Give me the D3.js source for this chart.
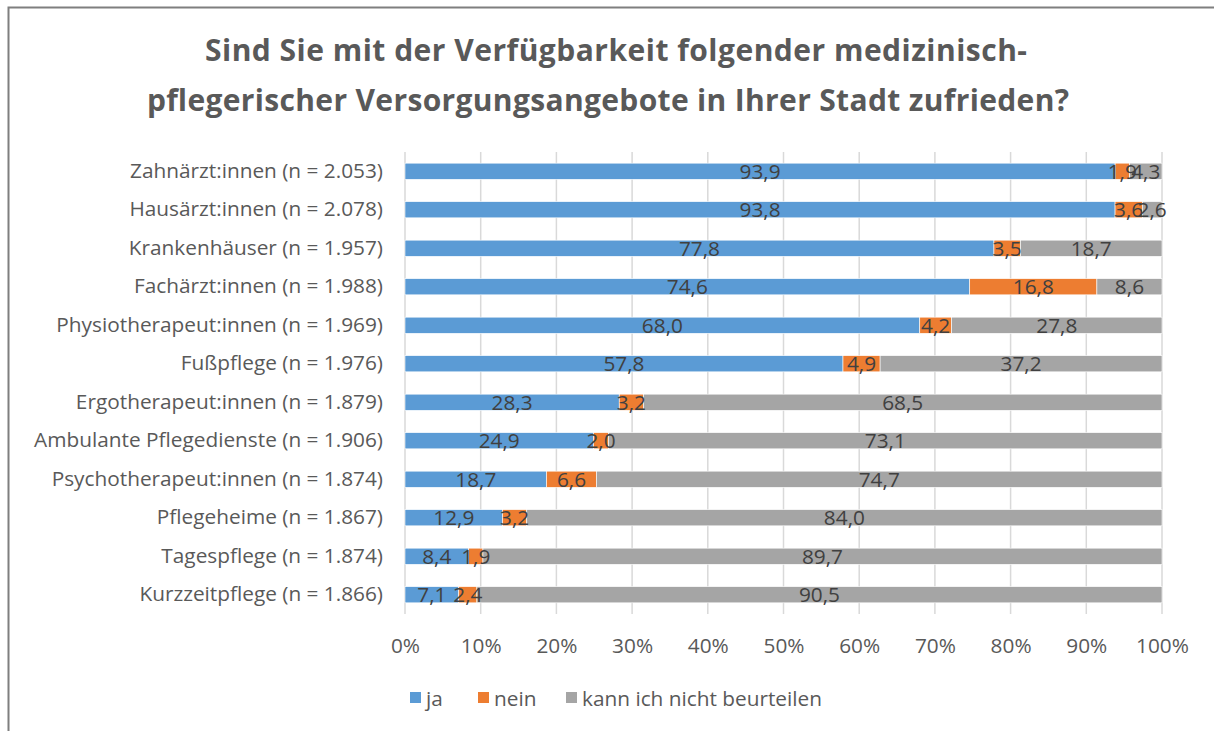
<!DOCTYPE html>
<html>
<head>
<meta charset="utf-8">
<title>Versorgungsangebote</title>
<script src="https://cdn.jsdelivr.net/npm/d3@7"></script>
<style>
  body { margin: 0; background: #fff; }
  text { font-family: "Open Sans", sans-serif; }
</style>
</head>
<body>
<script>
// data
var categories = [
  "Zahnärzt:innen (n = 2.053)",
  "Hausärzt:innen (n = 2.078)",
  "Krankenhäuser (n = 1.957)",
  "Fachärzt:innen (n = 1.988)",
  "Physiotherapeut:innen (n = 1.969)",
  "Fußpflege (n = 1.976)",
  "Ergotherapeut:innen (n = 1.879)",
  "Ambulante Pflegedienste (n = 1.906)",
  "Psychotherapeut:innen (n = 1.874)",
  "Pflegeheime (n = 1.867)",
  "Tagespflege (n = 1.874)",
  "Kurzzeitpflege (n = 1.866)"
];
var ja    = [93.9, 93.8, 77.8, 74.6, 68.0, 57.8, 28.3, 24.9, 18.7, 12.9, 8.4, 7.1];
var nein  = [1.9, 3.6, 3.5, 16.8, 4.2, 4.9, 3.2, 2.0, 6.6, 3.2, 1.9, 2.4];
var kann  = [4.3, 2.6, 18.7, 8.6, 27.8, 37.2, 68.5, 73.1, 74.7, 84.0, 89.7, 90.5];
var seriesNames = ["ja", "nein", "kann ich nicht beurteilen"];
var colors = ["#5B9BD5", "#ED7D31", "#A5A5A5"];
var xTicks = [0, 0.1, 0.2, 0.3, 0.4, 0.5, 0.6, 0.7, 0.8, 0.9, 1];

var W = 1214, H = 731;
var margin = {top: 152, left: 405};
var fs = 20.8;

var svg = d3.select("body").append("svg")
  .attr("width", W)
  .attr("height", H);

// chart frame (only left and top visible)
svg.append("rect")
  .attr("x", 8.5).attr("y", 7.5)
  .attr("width", 1220).attr("height", 740)
  .attr("fill", "none").attr("stroke", "#7f7f7f").attr("stroke-width", 2);

// title
var title = svg.append("text")
  .attr("font-weight", "bold")
  .attr("font-size", 30)
  .attr("fill", "#595959");
title.append("tspan").attr("x", 205).attr("y", 61)
  .attr("textLength", 822).attr("lengthAdjust", "spacing")
  .text("Sind Sie mit der Verfügbarkeit folgender medizinisch-");
title.append("tspan").attr("x", 147).attr("y", 111)
  .attr("textLength", 922).attr("lengthAdjust", "spacing")
  .text("pflegerischer Versorgungsangebote in Ihrer Stadt zufrieden?");

var g = svg.append("g")
  .attr("transform", "translate(" + margin.left + "," + margin.top + ")");

var x = d3.scaleLinear().domain([0, 1]).range([0, 757]);
var y = d3.scaleBand().domain(categories).range([0, 462]).paddingInner(0.58).paddingOuter(0.29);

// gridlines
g.selectAll(".grid")
  .data(xTicks)
  .enter().append("line")
  .attr("x1", function(d) { return x(d); })
  .attr("x2", function(d) { return x(d); })
  .attr("y1", 0).attr("y2", 462)
  .attr("stroke", "#d9d9d9").attr("stroke-width", 1.5);

// stack data (100% stacked, so normalise each row)
var rows = categories.map(function(c, i) {
  var tot = ja[i] + nein[i] + kann[i];
  return {cat: c, vals: [ja[i], nein[i], kann[i]], tot: tot};
});
var segs = [];
rows.forEach(function(r) {
  var acc = 0;
  r.vals.forEach(function(v, k) {
    segs.push({cat: r.cat, k: k, v: v, x0: acc / r.tot, x1: (acc + v) / r.tot});
    acc += v;
  });
});

g.selectAll(".seg")
  .data(segs)
  .enter().append("rect")
  .attr("x", function(d) { return x(d.x0); })
  .attr("width", function(d) { return x(d.x1) - x(d.x0); })
  .attr("y", function(d) { return y(d.cat); })
  .attr("height", y.bandwidth())
  .attr("fill", function(d) { return colors[d.k]; })
  .attr("stroke", "#fff").attr("stroke-width", 0.6);

g.selectAll(".lbl")
  .data(segs)
  .enter().append("text")
  .attr("x", function(d) { return (x(d.x0) + x(d.x1)) / 2; })
  .attr("y", function(d) { return y(d.cat) + y.bandwidth() / 2; })
  .attr("dy", "0.36em")
  .attr("text-anchor", "middle")
  .attr("font-size", fs)
  .attr("fill", "#404040")
  .text(function(d) { return d.v.toFixed(1).replace(".", ","); });

// y axis labels
var yAxis = g.append("g").call(d3.axisLeft(y).tickSize(0).tickPadding(22));
yAxis.select(".domain").remove();
yAxis.selectAll("text")
  .attr("font-size", fs)
  .attr("fill", "#595959")
  .style("font-family", "'Open Sans', sans-serif");

// x axis
var xAxis = g.append("g")
  .attr("transform", "translate(0,462)")
  .call(d3.axisBottom(x).tickValues(xTicks).tickSize(0).tickPadding(24)
    .tickFormat(function(d) { return Math.round(d * 100) + "%"; }));
xAxis.select(".domain").remove();
xAxis.selectAll("text")
  .attr("font-size", fs)
  .attr("fill", "#595959")
  .style("font-family", "'Open Sans', sans-serif");

// legend
var legendX = [410, 478, 566];
var legend = svg.selectAll(".leg")
  .data(seriesNames)
  .enter().append("g")
  .attr("transform", function(d, i) { return "translate(" + legendX[i] + ",692)"; });
legend.append("rect")
  .attr("width", 11).attr("height", 11)
  .attr("fill", function(d, i) { return colors[i]; });
legend.append("text")
  .attr("x", 16).attr("y", 6)
  .attr("dy", "0.36em")
  .attr("font-size", fs)
  .attr("fill", "#595959")
  .text(function(d) { return d; });
</script>
</body>
</html>
